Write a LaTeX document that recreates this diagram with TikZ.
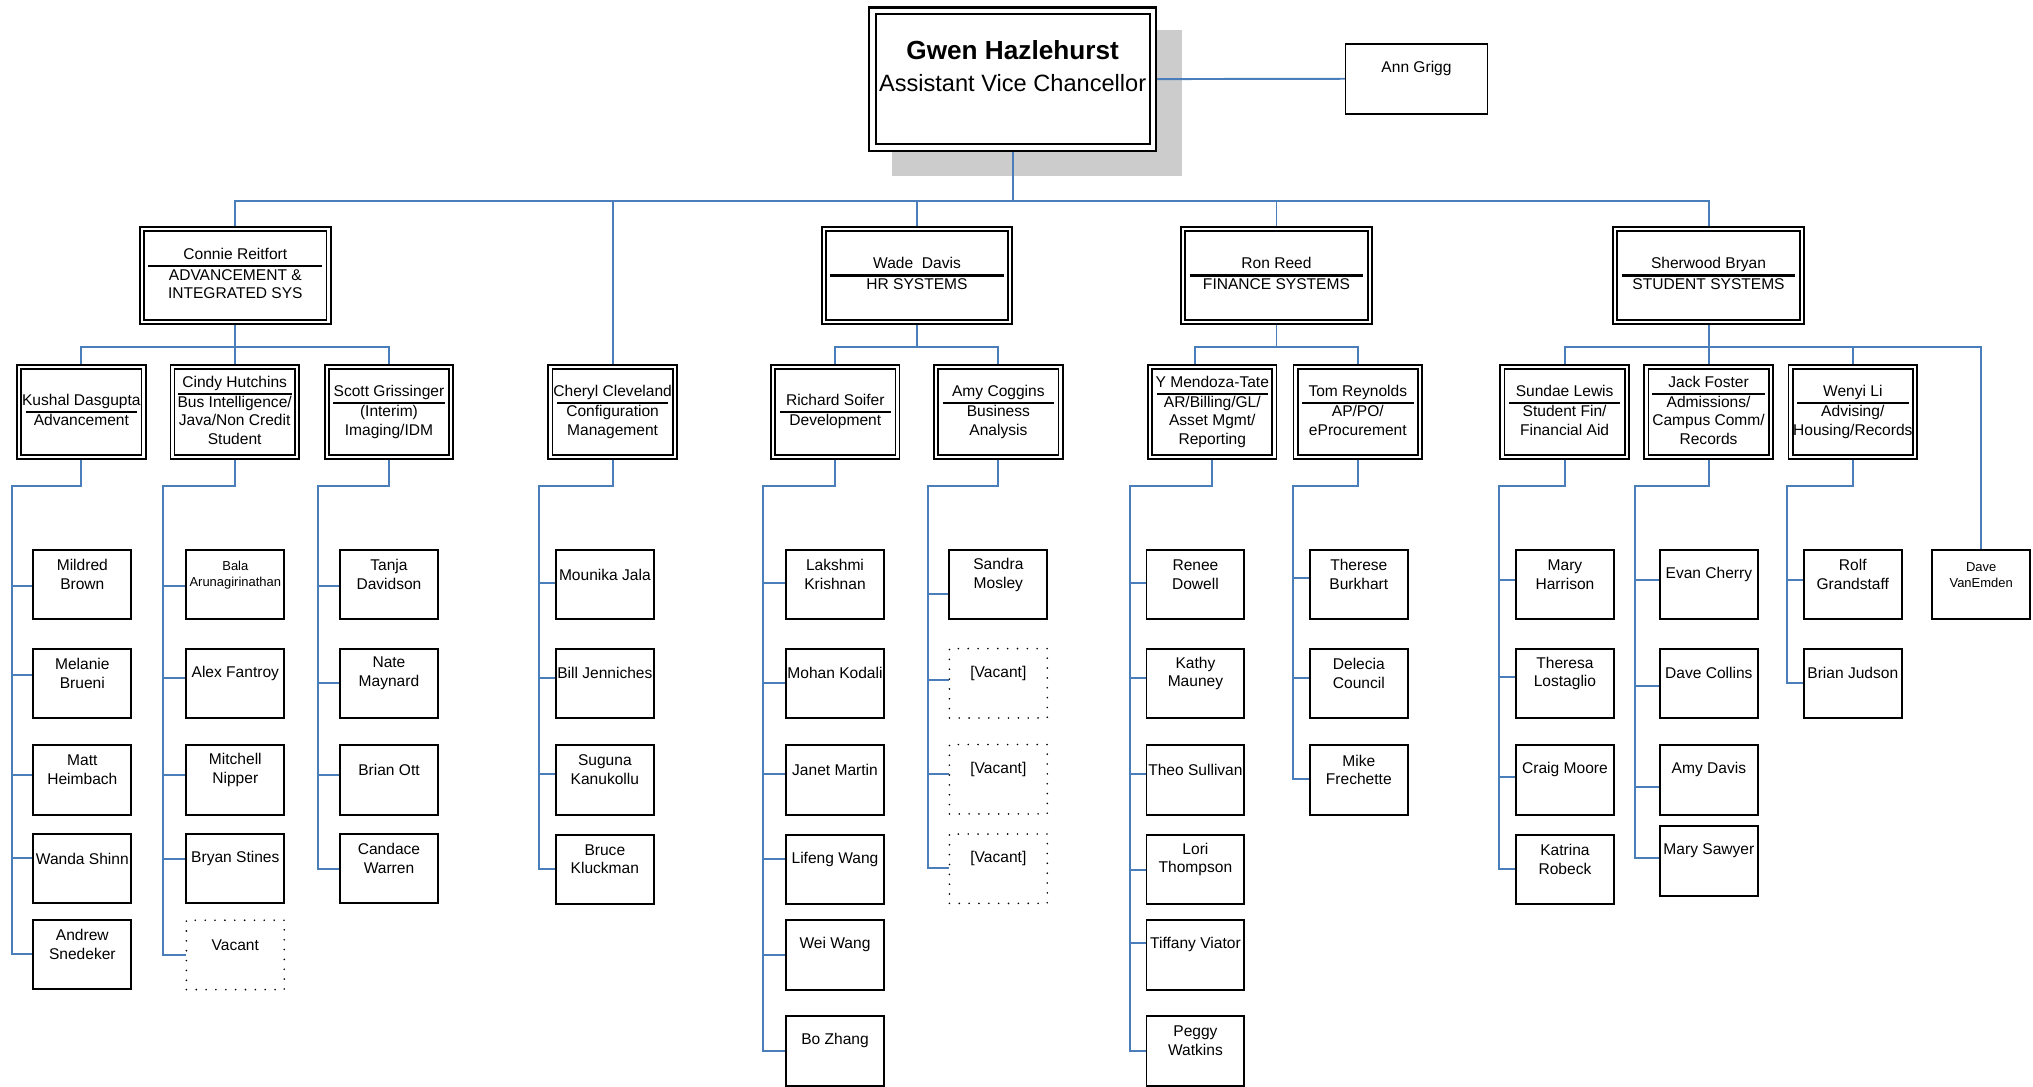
\documentclass[tikz,border=0pt]{standalone}
\usepackage{fontspec}
\setmainfont{Liberation Sans}
\usetikzlibrary{calc}
\definecolor{connblue}{RGB}{74,126,187}
\definecolor{shadowgray}{RGB}{204,204,204}
\pgfdeclarelayer{bg}
\pgfsetlayers{bg,main}
\newcommand\stafffont{\fontsize{12}{14.4}\selectfont}
\newcommand\smallstafffont{\fontsize{10}{12.4}\selectfont}
\newcommand\hdr[3]{\fontsize{12}{14.2}\selectfont\setlength\arrayrulewidth{1.6pt}%
  \begin{tabular}{@{}c@{}}\makebox[#1]{#2}\\\hline #3\end{tabular}}
\newcommand\staffat[6]{%
  \node[#1] (#3) at ({#4+38.5},{#5+27.5}) {};
  \node[#2] (#3-t) at ({#4+38.5},{#5+19.8}) {#6};}
\newcommand\staff{\staffat{staffbox}{stafftext}}
\newcommand\vacant{\staffat{vacbox}{stafftext}}
\newcommand\smallstaff{\staffat{staffbox}{smalltext}}
\newcommand\sconn[4]{\draw[conn] (#1.south) |- (#2,375) |- (#3.west |- 0,#4);}
\tikzset{
  conn/.style={draw=connblue, line width=1.5pt},
  staffbox/.style={draw=black, line width=1.5pt, fill=white, minimum width=75.5pt, minimum height=53.5pt, inner sep=0pt, outer sep=0pt},
  vacbox/.style={draw=black, line width=1.4pt, line cap=round, dash pattern=on 0pt off 7.6pt, fill=white, minimum width=75.5pt, minimum height=53.5pt, inner sep=0pt, outer sep=0pt},
  stafftext/.style={align=center, font=\stafffont, inner sep=0pt},
  smalltext/.style={align=center, font=\smallstafffont, inner sep=0pt},
  dblbox/.style={draw=black, line width=1.4pt, double=white, double distance=1.8pt, fill=white, inner sep=0pt, outer sep=0pt},
  mgrbox/.style={dblbox, minimum width=143.9pt, minimum height=71.4pt},
  subbox/.style={dblbox, minimum width=95.9pt, minimum height=69.9pt},
  mainbox/.style={draw=black, line width=1.6pt, double=white, double distance=3.4pt, fill=white, minimum width=216.4pt, minimum height=105.4pt, inner sep=0pt, outer sep=0pt},
  annbox/.style={draw=black, line width=1.5pt, fill=white, minimum width=109.5pt, minimum height=54pt, inner sep=0pt, outer sep=0pt},
}
\begin{document}
\begin{tikzpicture}[x=1pt,y=-1pt]
\useasboundingbox (0,0) rectangle (1568,838);

% top
\node[mainbox] (main) at (781,61) {};
\node[align=center, inner sep=0pt, font=\fontsize{18.2}{24}\selectfont] (main-t) at (781,51)
  {{\bfseries\fontsize{20.2}{24}\selectfont Gwen Hazlehurst}\\Assistant Vice Chancellor};
\node[annbox] (ann) at (1092.5,60.75) {};
\node[stafftext] (ann-t) at (1092.5,53) {Ann Grigg};

% managers
\node[mgrbox] (connie) at (181.5,212.5) {\hdr{134pt}{Connie Reitfort}{ADVANCEMENT \&\\INTEGRATED SYS}};
\node[mgrbox] (wade) at (707.25,212.5) {\hdr{134pt}{Wade~~Davis}{HR SYSTEMS}};
\node[mgrbox] (ron) at (984.5,212.5) {\hdr{134pt}{Ron Reed}{FINANCE SYSTEMS}};
\node[mgrbox] (sherwood) at (1317.75,212.5) {\hdr{134pt}{Sherwood Bryan}{STUDENT SYSTEMS}};

% second level
\node[subbox] (kushal) at (62.75,317.75) {\hdr{86pt}{Kushal Dasgupta}{Advancement}};
\node[subbox] (cindy) at (181,317.75) {\hdr{86pt}{Cindy Hutchins}{Bus Intelligence/\\Java/Non Credit\\Student}};
\node[subbox] (scott) at (300,317.75) {\hdr{86pt}{Scott Grissinger}{(Interim)\\Imaging/IDM}};
\node[subbox] (cheryl) at (472.5,317.75) {\hdr{86pt}{Cheryl Cleveland}{Configuration\\Management}};
\node[subbox] (richard) at (644.25,317.75) {\hdr{86pt}{Richard Soifer}{Development}};
\node[subbox] (amy) at (770,317.75) {\hdr{86pt}{Amy Coggins}{Business\\Analysis}};
\node[subbox] (ymt) at (935,317.75) {\hdr{86pt}{Y Mendoza-Tate}{AR/Billing/GL/\\Asset Mgmt/\\Reporting}};
\node[subbox] (tom) at (1047.25,317.75) {\hdr{86pt}{Tom Reynolds}{AP/PO/\\eProcurement}};
\node[subbox] (sundae) at (1206.75,317.75) {\hdr{86pt}{Sundae Lewis}{Student Fin/\\Financial Aid}};
\node[subbox] (jack) at (1317.75,317.75) {\hdr{86pt}{Jack Foster}{Admissions/\\Campus Comm/\\Records}};
\node[subbox] (wenyi) at (1429,317.75) {\hdr{86pt}{Wenyi Li}{Advising/\\\makebox[86pt]{Housing/Records}}};

% staff
\staff{mildred}{25}{423.5}{Mildred\\Brown}
\staff{melanie}{25}{499.5}{Melanie\\Brueni}
\staff{matt}{25}{574}{Matt\\Heimbach}
\staff{wanda}{25}{642.5}{Wanda Shinn}
\staff{andrew}{25}{708.5}{Andrew\\Snedeker}

\smallstaff{bala}{143}{423.5}{Bala\\Arunagirinathan}
\staff{alex}{143}{499.5}{Alex Fantroy}
\staff{mitchell}{143}{574}{Mitchell\\Nipper}
\staff{bryan}{143}{642.5}{Bryan Stines}
\vacant{vacb}{143}{709}{Vacant}

\staff{tanja}{261.5}{423.5}{Tanja\\Davidson}
\staff{nate}{261.5}{499.5}{Nate\\Maynard}
\staff{brianott}{261.5}{574}{Brian Ott}
\staff{candace}{261.5}{642.5}{Candace\\Warren}

\staff{mounika}{428}{423.5}{Mounika Jala}
\staff{bill}{428}{499.5}{Bill Jenniches}
\staff{suguna}{428}{574}{Suguna\\Kanukollu}
\staff{bruce}{428}{643}{Bruce\\Kluckman}

\staff{lakshmi}{605.5}{423.5}{Lakshmi\\Krishnan}
\staff{mohan}{605.5}{499.5}{Mohan Kodali}
\staff{janet}{605.5}{574}{Janet Martin}
\staff{lifeng}{605.5}{643}{Lifeng Wang}
\staff{wei}{605.5}{709}{Wei Wang}
\staff{bo}{605.5}{783}{Bo Zhang}

\staff{sandra}{731.5}{423.5}{Sandra\\Mosley}
\vacant{vaca}{731.5}{499.5}{[Vacant]}
\vacant{vacc}{731.5}{573.5}{[Vacant]}
\vacant{vacd}{731.5}{642.5}{[Vacant]}

\staff{renee}{883.5}{423.5}{Renee\\Dowell}
\staff{kathy}{883.5}{499.5}{Kathy\\Mauney}
\staff{theo}{883.5}{574}{Theo Sullivan}
\staff{lori}{883.5}{643}{Lori\\Thompson}
\staff{tiffany}{883.5}{709}{Tiffany Viator}
\staff{peggy}{883.5}{783}{Peggy\\Watkins}

\staff{therese}{1009.5}{423.5}{Therese\\Burkhart}
\staff{delecia}{1009.5}{499.5}{Delecia\\Council}
\staff{mike}{1009.5}{574}{Mike\\Frechette}

\staff{mary}{1168.5}{423.5}{Mary\\Harrison}
\staff{theresa}{1168.5}{499.5}{Theresa\\Lostaglio}
\staff{craig}{1168.5}{574}{Craig Moore}
\staff{katrina}{1168.5}{643}{Katrina\\Robeck}

\staff{evan}{1279.5}{423.5}{Evan Cherry}
\staff{davec}{1279.5}{499.5}{Dave Collins}
\staff{amyd}{1279.5}{574}{Amy Davis}
\staff{marys}{1279.5}{636.5}{Mary Sawyer}

\staff{rolf}{1390.5}{423.5}{Rolf\\Grandstaff}
\staff{brianj}{1390.5}{499.5}{Brian Judson}

\smallstaff{dave}{1489.5}{423.5}{Dave\\VanEmden}

\begin{pgfonlayer}{bg}
\fill[shadowgray] (688,23) rectangle (912,135.5);
\draw[conn] (main.east) -- (ann.west);
\coordinate (bus1) at (781,155);
\coordinate (ronbus) at (921.6,267.5);
\draw[conn] (main.south) -- (bus1);
\foreach \n in {connie,cheryl,wade,ron,sherwood} \draw[conn] (bus1) -| (\n.north);
\foreach \n in {kushal,cindy,scott} \draw[conn] (connie.south) |- (\n.north |- 0,267.5) -- (\n.north);
\foreach \n in {richard,amy} \draw[conn] (wade.south) |- (\n.north |- 0,267.5) -- (\n.north);
\draw[conn] (ron.south) |- (tom.north |- 0,267.5) -- (tom.north);
\draw[conn] (ron.south) |- (ronbus) -- (ronbus |- ymt.north);
\foreach \n in {sundae,jack,wenyi,dave} \draw[conn] (sherwood.south) |- (\n.north |- 0,267.5) -- (\n.north);

\sconn{kushal}{9.5}{mildred}{452}
\sconn{kushal}{9.5}{melanie}{520.5}
\sconn{kushal}{9.5}{matt}{598}
\sconn{kushal}{9.5}{wanda}{662}
\sconn{kushal}{9.5}{andrew}{736}

\sconn{cindy}{125.5}{bala}{452}
\sconn{cindy}{125.5}{alex}{523}
\sconn{cindy}{125.5}{mitchell}{598}
\sconn{cindy}{125.5}{bryan}{662.5}
\sconn{cindy}{125.5}{vacb}{736.5}

\sconn{scott}{245}{tanja}{452}
\sconn{scott}{245}{nate}{527}
\sconn{scott}{245}{brianott}{598}
\sconn{scott}{245}{candace}{670}

\sconn{cheryl}{416}{mounika}{449.5}
\sconn{cheryl}{416}{bill}{523}
\sconn{cheryl}{416}{suguna}{597}
\sconn{cheryl}{416}{bruce}{670}

\sconn{richard}{588.5}{lakshmi}{449.5}
\sconn{richard}{588.5}{mohan}{526.5}
\sconn{richard}{588.5}{janet}{597}
\sconn{richard}{588.5}{lifeng}{662.5}
\sconn{richard}{588.5}{wei}{736.5}
\sconn{richard}{588.5}{bo}{810.5}

\sconn{amy}{716}{sandra}{458}
\sconn{amy}{716}{vaca}{524.5}
\sconn{amy}{716}{vacc}{597}
\sconn{amy}{716}{vacd}{669.5}

\sconn{ymt}{871.5}{renee}{450}
\sconn{ymt}{871.5}{kathy}{523}
\sconn{ymt}{871.5}{theo}{597}
\sconn{ymt}{871.5}{lori}{671}
\sconn{ymt}{871.5}{tiffany}{727.5}
\sconn{ymt}{871.5}{peggy}{810.5}

\sconn{tom}{997}{therese}{446}
\sconn{tom}{997}{delecia}{523}
\sconn{tom}{997}{mike}{601}

\sconn{sundae}{1156}{mary}{447}
\sconn{sundae}{1156}{theresa}{522}
\sconn{sundae}{1156}{craig}{599}
\sconn{sundae}{1156}{katrina}{670}

\sconn{jack}{1261}{evan}{447}
\sconn{jack}{1261}{davec}{529}
\sconn{jack}{1261}{amyd}{607}
\sconn{jack}{1261}{marys}{662}

\sconn{wenyi}{1378}{rolf}{447}
\sconn{wenyi}{1378}{brianj}{526.5}
\end{pgfonlayer}
\end{tikzpicture}
\end{document}
